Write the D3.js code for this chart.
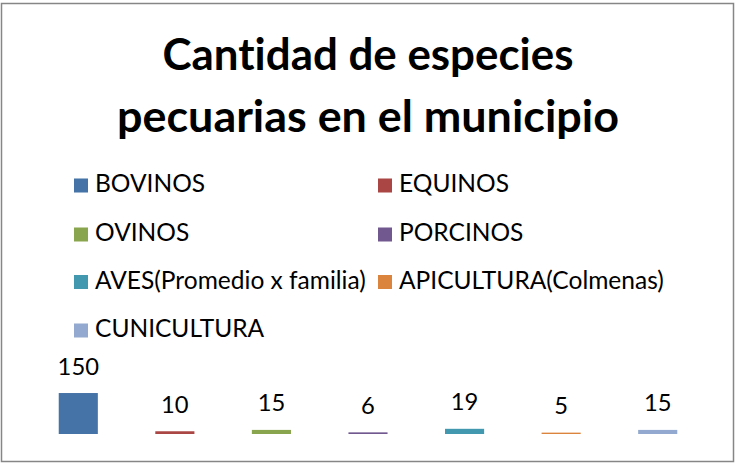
<!DOCTYPE html>
<html><head><meta charset="utf-8">
<script src="https://cdn.jsdelivr.net/npm/d3@7"></script>
<style>body{margin:0;background:#fff}svg{display:block}text{font-variant-ligatures:none;font-feature-settings:"liga" 0}</style>
</head><body>
<svg id="c" width="736" height="463"></svg>
<script>
const categories = ["BOVINOS","EQUINOS","OVINOS","PORCINOS","AVES(Promedio x familia)","APICULTURA(Colmenas)","CUNICULTURA"];
const values = [150,10,15,6,19,5,15];
const colors = ["#4572A7","#AA4643","#89A54E","#71588F","#4198AF","#DB843D","#93A9CF"];
const titleLines = ["Cantidad de especies","pecuarias en el municipio"];
const yDomain = [0,160];

const svg = d3.select("#c");
const FONT = "Lato, 'Open Sans', sans-serif";

function fitWidth(sel, target){
  const w = sel.node().getComputedTextLength();
  const fs = parseFloat(sel.attr("font-size"));
  return fs*target/w;
}

// border
svg.append("rect").attr("x",1.5).attr("y",3.5).attr("width",732).attr("height",458)
  .attr("fill","#fff").attr("stroke","#868686").attr("stroke-width",1.5);

// title
const titleBase = [70,132], titleW = [411,502];
titleLines.forEach((t,i)=>{
  const el = svg.append("text").attr("x",368).attr("y",titleBase[i])
    .attr("text-anchor","middle").attr("font-family",FONT).attr("font-weight","bold")
    .attr("font-size",36).attr("fill","#000").text(t);
  el.attr("font-size", fitWidth(el, titleW[i]));
});

// legend
const legCols = [{mx:74, tx:95},{mx:378, tx:399}];
const legRows = [192,241,288.5,337];
const probe = svg.append("text").attr("font-family",FONT).attr("font-size",20).text(categories[4]);
const legFs = fitWidth(probe, 271);
probe.remove();
const leg = svg.append("g").selectAll("g").data(categories).join("g");
leg.append("rect")
  .attr("x",(d,i)=>legCols[i%2].mx)
  .attr("y",(d,i)=>legRows[Math.floor(i/2)]-13.5)
  .attr("width",14).attr("height",14)
  .attr("fill",(d,i)=>colors[i]);
leg.append("text")
  .attr("x",(d,i)=>legCols[i%2].tx)
  .attr("y",(d,i)=>legRows[Math.floor(i/2)])
  .attr("font-family",FONT).attr("font-size",legFs).attr("fill","#000")
  .text(d=>d);

// plot
const x = d3.scaleBand().domain(categories).range([30,706]).paddingInner(0.595).paddingOuter(0.2975);
const y = d3.scaleLinear().domain(yDomain).range([434,390.3]);

svg.append("g").selectAll("rect").data(values).join("rect")
  .attr("x",(d,i)=>x(categories[i]))
  .attr("y",d=>y(d))
  .attr("width",x.bandwidth())
  .attr("height",d=>y(0)-y(d))
  .attr("fill",(d,i)=>colors[i]);

const probe2 = svg.append("text").attr("font-family",FONT).attr("font-size",24).text("150");
const labFs = fitWidth(probe2, 39) * 1.06;
probe2.remove();
svg.append("g").selectAll("text").data(values).join("text")
  .attr("x",(d,i)=>x(categories[i])+x.bandwidth()/2)
  .attr("y",d=>y(d)-18.5)
  .attr("text-anchor","middle")
  .attr("font-family",FONT).attr("font-size",labFs).attr("fill","#000")
  .text(d=>d);
</script>
</body></html>
